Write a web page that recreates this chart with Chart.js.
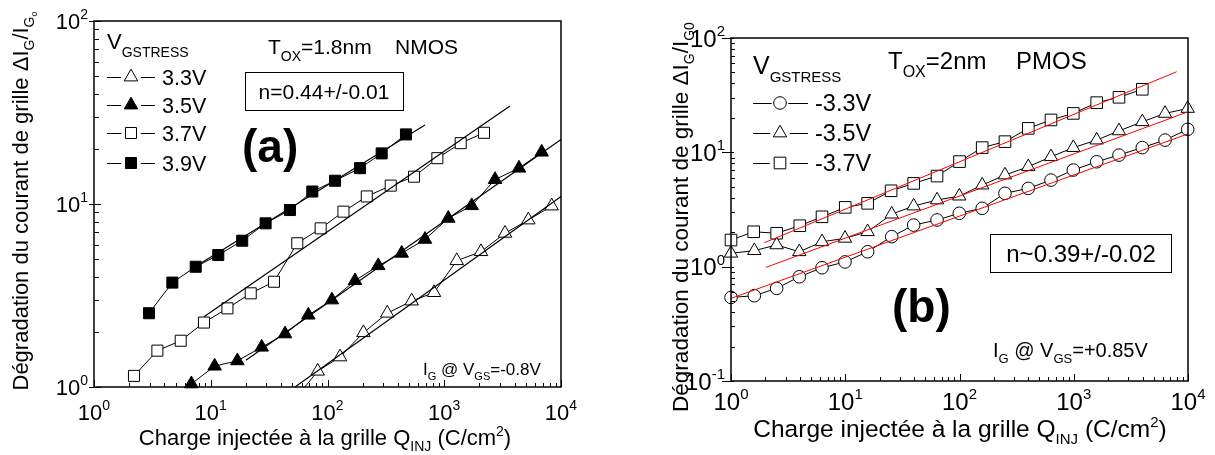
<!DOCTYPE html>
<html>
<head>
<meta charset="utf-8">
<script src="https://cdn.jsdelivr.net/npm/chart.js@4.4.1/dist/chart.umd.min.js"></script>
<style>
html, body { margin: 0; padding: 0; background: #fff; }
#wrap { position: relative; width: 1215px; height: 455px; }
canvas { position: absolute; left: 0; top: 0; }
</style>
</head>
<body>
<div id="wrap">
  <canvas id="chartA" width="1215" height="455"></canvas>
  <canvas id="chartB" width="1215" height="455"></canvas>
</div>
<script>
// ---- (a) NMOS, Tox = 1.8nm : injected charge (C/cm2) vs gate current degradation
const qA33 = [52, 82.4, 128, 203, 325, 526, 817, 1279, 2064, 3313, 5248, 8323];
const gA33 = [0.85, 1.22, 1.46, 1.98, 2.53, 2.95, 3.28, 4.90, 5.49, 6.92, 8.18, 9.75];
const qA35 = [6.82, 10.8, 16.9, 27.3, 43.3, 68.5, 109, 172, 272, 432, 684, 1083, 1718, 2722, 4367, 6835];
const gA35 = [1.04, 1.30, 1.39, 1.65, 1.95, 2.47, 2.99, 3.81, 4.60, 5.38, 6.41, 8.35, 9.79, 13.6, 15.7, 19.2];
const qA37 = [2.20, 3.49, 5.53, 8.75, 13.9, 22.0, 34.8, 55.1, 87.4, 137, 217, 348, 551, 873, 1383, 2190];
const gA37 = [1.15, 1.58, 1.79, 2.25, 2.69, 3.25, 3.76, 6.10, 7.36, 9.08, 11.0, 12.6, 14.1, 17.8, 21.5, 24.5];
const qA39 = [2.96, 4.69, 7.43, 11.6, 18.6, 29.5, 47.7, 74.1, 116, 190, 291, 470];
const gA39 = [2.53, 3.72, 4.54, 5.26, 6.30, 7.84, 9.27, 11.7, 13.4, 15.7, 18.9, 24.0];
// power-law fits (n = 0.44)
const fitA33q = [52.7, 10000], fitA33g = [1.0, 11.0];
const fitA35q = [20, 10000],   fitA35g = [1.40, 22.5];
const fitA37q = [8.75, 3656],  fitA37g = [2.42, 34.3];
const fitA39q = [7.4, 684],    fitA39g = [4.55, 27.0];
const labelsA = ['3.3V', '3.5V', '3.7V', '3.9V'];

// ---- (b) PMOS, Tox = 2nm
const qB = [1.0, 1.6, 2.51, 3.96, 6.26, 9.95, 15.7, 25.5, 39.7, 63.6, 99.6, 158, 250, 400, 632, 991, 1588, 2489, 3981, 6295, 9940];
const gB33 = [0.538, 0.557, 0.646, 0.816, 0.978, 1.10, 1.35, 1.83, 2.31, 2.56, 2.93, 3.24, 4.38, 4.84, 5.72, 7.0, 8.27, 9.46, 11.0, 12.8, 15.9];
const gB35 = [1.31, 1.38, 1.55, 1.35, 1.65, 1.77, 2.02, 2.88, 3.39, 3.83, 4.14, 5.17, 6.33, 7.48, 9.15, 11.0, 12.8, 15.4, 18.5, 21.9, 24.2];
const qB37 = [1.0, 1.58, 2.51, 4.0, 6.26, 10, 15.7, 25.2, 39.7, 63.6, 100, 158, 250, 400, 632, 991, 1588, 2489, 3981];
const gB37 = [1.71, 2.02, 1.96, 2.28, 2.73, 3.30, 3.58, 4.61, 5.35, 6.20, 8.3, 11.0, 12.4, 16.2, 19.2, 21.9, 27.2, 30.3, 35.6];
// power-law fits (n ~ 0.39)
const fitB33q = [1, 10000],    fitB33g = [0.528, 14.5];
const fitB35q = [2.02, 10000], fitB35g = [0.986, 22.6];
const fitB37q = [1.96, 7962],  fitB37g = [1.62, 50.7];
const labelsB = ['-3.3V', '-3.5V', '-3.7V'];

const FONT = '"Liberation Sans", Arial, Helvetica, sans-serif';

function pts(xs, ys) {
  return xs.map((x, i) => ({ x: x, y: ys[i] }));
}

function serie(xs, ys, style, filled, r, clip) {
  return {
    data: pts(xs, ys), showLine: true, borderColor: '#000', borderWidth: 1,
    pointStyle: style, pointRadius: r, pointHoverRadius: r,
    pointBackgroundColor: filled ? '#000' : '#fff', pointBorderColor: '#000',
    pointBorderWidth: 1, order: 1, clip: clip
  };
}

function fit(xs, ys, color, w) {
  return {
    data: pts(xs, ys), showLine: true, borderColor: color, borderWidth: w,
    pointRadius: 0, order: 0, clip: false
  };
}

function T(t, s, dy, b) {
  return { t: t, s: s, dy: dy || 0, b: !!b };
}

function drawRich(ctx, segs, x, y, align) {
  let w = 0;
  segs.forEach(sg => {
    ctx.font = (sg.b ? 'bold ' : '') + sg.s + 'px ' + FONT;
    w += ctx.measureText(sg.t).width;
  });
  let cx = align === 'center' ? x - w / 2 : (align === 'right' ? x - w : x);
  ctx.textAlign = 'left';
  ctx.textBaseline = 'alphabetic';
  segs.forEach(sg => {
    ctx.font = (sg.b ? 'bold ' : '') + sg.s + 'px ' + FONT;
    ctx.fillText(sg.t, cx, y + sg.dy);
    cx += ctx.measureText(sg.t).width;
  });
}

function marker(ctx, style, x, y, r, filled) {
  ctx.beginPath();
  if (style === 'circle') {
    ctx.arc(x, y, r, 0, 2 * Math.PI);
  } else if (style === 'rect') {
    const h = r * Math.SQRT1_2;
    ctx.rect(x - h, y - h, 2 * h, 2 * h);
  } else {
    ctx.moveTo(x, y - r);
    ctx.lineTo(x + 0.866 * r, y + 0.5 * r);
    ctx.lineTo(x - 0.866 * r, y + 0.5 * r);
    ctx.closePath();
  }
  ctx.fillStyle = filled ? '#000' : '#fff';
  ctx.fill();
  ctx.lineWidth = 1;
  ctx.strokeStyle = '#000';
  ctx.stroke();
}

function legendRow(ctx, y, x1, xm, x2, style, r, filled, label, fs) {
  ctx.strokeStyle = '#000';
  ctx.lineWidth = 1;
  ctx.beginPath();
  ctx.moveTo(x1, y + 0.5); ctx.lineTo(xm - r - 2, y + 0.5);
  ctx.moveTo(xm + r + 2, y + 0.5); ctx.lineTo(x2, y + 0.5);
  ctx.stroke();
  marker(ctx, style, xm, y, r, filled);
  ctx.fillStyle = '#000';
  drawRich(ctx, [T(label, fs)], x2 + 7, y + fs * 0.36, 'left');
}

// box, inward log ticks and 10^n labels
function drawFrame(chart, s) {
  const ctx = chart.ctx, a = chart.chartArea, xs = chart.scales.x, ys = chart.scales.y;
  ctx.save();
  ctx.strokeStyle = '#000';
  ctx.lineWidth = 1;
  ctx.beginPath();
  const x0 = Math.round(Math.log10(xs.min)), x1 = Math.round(Math.log10(xs.max));
  for (let e = x0; e <= x1; e++) {
    for (let m = 1; m < 10; m++) {
      const v = m * Math.pow(10, e);
      if (v > xs.max * 1.0001) break;
      const px = Math.round(xs.getPixelForValue(v)) + 0.5;
      ctx.moveTo(px, a.bottom);
      ctx.lineTo(px, a.bottom - (m === 1 ? s.xMaj : s.xMin));
    }
  }
  const y0 = Math.round(Math.log10(ys.min)), y1 = Math.round(Math.log10(ys.max));
  for (let e = y0; e <= y1; e++) {
    for (let m = 1; m < 10; m++) {
      const v = m * Math.pow(10, e);
      if (v > ys.max * 1.0001) break;
      const py = Math.round(ys.getPixelForValue(v)) + 0.5;
      if (m === 1) {
        ctx.moveTo(a.left - s.yOut, py);
        ctx.lineTo(a.left + s.yMaj, py);
      } else {
        ctx.moveTo(a.left, py);
        ctx.lineTo(a.left + s.yMin, py);
      }
    }
  }
  ctx.stroke();
  ctx.lineWidth = 1.5;
  ctx.strokeRect(a.left, a.top, a.right - a.left, a.bottom - a.top);
  ctx.fillStyle = '#000';
  for (let e = x0; e <= x1; e++) {
    const px = xs.getPixelForValue(Math.pow(10, e));
    drawRich(ctx, [T('10', s.fs), T(String(e), s.sup, -s.fs * 0.45)], px, a.bottom + s.xLab, 'center');
  }
  for (let e = y0; e <= y1; e++) {
    const py = ys.getPixelForValue(Math.pow(10, e));
    drawRich(ctx, [T('10', s.fs), T(String(e), s.sup, -s.fs * 0.45)], a.left - 6, py + s.fs * 0.36, 'right');
  }
  ctx.restore();
}

const decoA = {
  id: 'decoA',
  afterDraw(chart) {
    const ctx = chart.ctx;
    drawFrame(chart, { fs: 22, sup: 14, xLab: 33, xMaj: 7, xMin: 4, yOut: 5, yMaj: 7, yMin: 5 });
    ctx.save();
    ctx.fillStyle = '#000';
    drawRich(ctx, [T('Charge injectée à la grille Q', 22), T('INJ', 14, 6), T(' (C/cm', 22), T('2', 14, -9), T(')', 22)], 325, 445, 'center');
    ctx.save();
    ctx.translate(28, 201);
    ctx.rotate(-Math.PI / 2);
    drawRich(ctx, [T('Dégradation du courant de grille ΔI', 22), T('G', 14, 6), T('/I', 22), T('G', 14, 6), T('o', 9, 9)], 0, 0, 'center');
    ctx.restore();
    drawRich(ctx, [T('V', 22), T('GSTRESS', 14, 8)], 107, 49, 'left');
    drawRich(ctx, [T('T', 21), T('OX', 14, 7), T('=1.8nm', 21)], 268, 54, 'left');
    drawRich(ctx, [T('NMOS', 21)], 395, 54, 'left');
    ctx.lineWidth = 1;
    ctx.strokeStyle = '#000';
    ctx.strokeRect(245.5, 72.5, 158, 38);
    drawRich(ctx, [T('n=0.44+/-0.01', 21)], 324, 99, 'center');
    drawRich(ctx, [T('(a)', 46, 0, true)], 242, 162, 'left');
    drawRich(ctx, [T('I', 17), T('G', 11, 5), T(' @ V', 17), T('GS', 11, 5), T('=-0.8V', 17)], 423, 375, 'left');
    const rowsY = [77, 105, 133, 163];
    const styles = ['triangle', 'triangle', 'rect', 'rect'];
    const fills = [false, true, false, true];
    rowsY.forEach((y, i) => legendRow(ctx, y, 107, 131, 155, styles[i], 7.8, fills[i], labelsA[i], 21.5));
    ctx.restore();
  }
};

const decoB = {
  id: 'decoB',
  afterDraw(chart) {
    const ctx = chart.ctx;
    drawFrame(chart, { fs: 24, sup: 15, xLab: 29, xMaj: 7, xMin: 4, yOut: 9, yMaj: 3, yMin: 4 });
    ctx.save();
    ctx.fillStyle = '#000';
    drawRich(ctx, [T('Charge injectée à la grille Q', 24.5), T('INJ', 15, 7), T(' (C/cm', 24.5), T('2', 15, -10), T(')', 24.5)], 960, 437, 'center');
    ctx.save();
    ctx.translate(688, 217);
    ctx.rotate(-Math.PI / 2);
    drawRich(ctx, [T('Dégradation du courant de grille ΔI', 22.5), T('G', 14, 6), T('/I', 22.5), T('G0', 14, 6)], 0, 0, 'center');
    ctx.restore();
    drawRich(ctx, [T('V', 25), T('GSTRESS', 15, 8)], 753, 74, 'left');
    drawRich(ctx, [T('T', 24), T('OX', 16, 8), T('=2nm', 24)], 888, 69, 'left');
    drawRich(ctx, [T('PMOS', 24)], 1016, 69, 'left');
    ctx.lineWidth = 1;
    ctx.strokeStyle = '#000';
    ctx.strokeRect(990.5, 234.5, 181, 38);
    drawRich(ctx, [T('n~0.39+/-0.02', 24)], 1081, 262, 'center');
    drawRich(ctx, [T('(b)', 46, 0, true)], 892, 322, 'left');
    drawRich(ctx, [T('I', 20), T('G', 13, 6), T(' @ V', 20), T('GS', 13, 6), T('=+0.85V', 20)], 993, 357, 'left');
    const rowsY = [103, 133, 163];
    const styles = ['circle', 'triangle', 'rect'];
    const radii = [6.3, 7.7, 8.2];
    rowsY.forEach((y, i) => legendRow(ctx, y, 753, 780, 808, styles[i], radii[i], false, labelsB[i], 23.5));
    ctx.restore();
  }
};

function buildChart(id, datasets, area, yMin, yMax, deco) {
  return new Chart(document.getElementById(id), {
    type: 'scatter',
    data: { datasets: datasets },
    options: {
      responsive: false,
      animation: false,
      devicePixelRatio: 1,
      events: [],
      layout: { padding: { left: area.l, top: area.t, right: 1215 - area.r, bottom: 455 - area.b } },
      plugins: { legend: { display: false }, tooltip: { enabled: false } },
      scales: {
        x: { type: 'logarithmic', min: 1, max: 10000, display: false },
        y: { type: 'logarithmic', min: yMin, max: yMax, display: false }
      }
    },
    plugins: [deco]
  });
}

buildChart('chartA', [
  fit(fitA33q, fitA33g, '#000', 1.2),
  fit(fitA35q, fitA35g, '#000', 1.2),
  fit(fitA37q, fitA37g, '#000', 1.2),
  fit(fitA39q, fitA39g, '#000', 1.2),
  serie(qA33, gA33, 'triangle', false, 7.8, undefined),
  serie(qA35, gA35, 'triangle', true, 7.8, false),
  serie(qA37, gA37, 'rect', false, 7.8, false),
  serie(qA39, gA39, 'rect', true, 7.8, false)
], { l: 94, t: 21, r: 561, b: 387 }, 1, 100, decoA);

buildChart('chartB', [
  fit(fitB33q, fitB33g, '#ff0000', 1),
  fit(fitB35q, fitB35g, '#ff0000', 1),
  fit(fitB37q, fitB37g, '#ff0000', 1),
  serie(qB, gB33, 'circle', false, 6.3, false),
  serie(qB, gB35, 'triangle', false, 7.7, false),
  serie(qB37, gB37, 'rect', false, 8.2, false)
], { l: 731, t: 38, r: 1188, b: 381 }, 0.1, 100, decoB);
</script>
</body>
</html>
